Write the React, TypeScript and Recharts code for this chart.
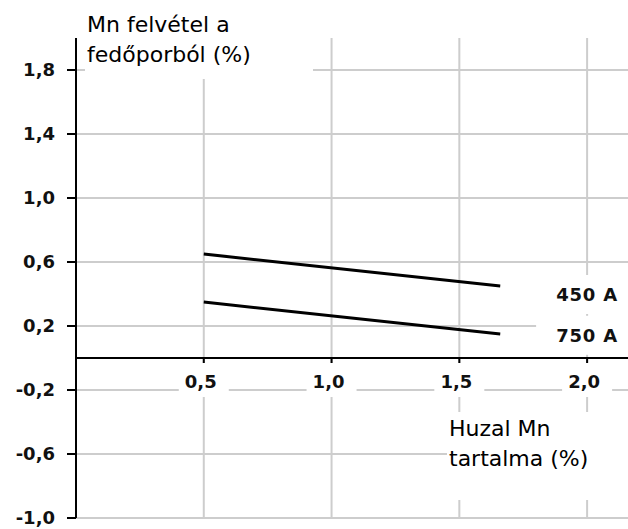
import { LineChart, Line, XAxis, YAxis, CartesianGrid, ReferenceLine, ReferenceDot } from "recharts";

// wire Mn content (%) at the two ends of each curve
const wireMn = [0.5, 1.66];
// Mn pickup from the flux (%) for each welding current
const pickup450 = [0.65, 0.45];
const pickup750 = [0.35, 0.15];

const xTicks = [0.5, 1.0, 1.5, 2.0];
const yTicks = [1.8, 1.4, 1.0, 0.6, 0.2, -0.2, -0.6, -1.0];

const seriesNames = ["450 A", "750 A"];
const seriesLabelX = [2.0, 2.0];
const seriesLabelY = [0.4, 0.145];

const yTitle = ["Mn felvétel a", "fedőporból (%)"];
const xTitle = ["Huzal Mn", "tartalma (%)"];

const data450 = wireMn.map((x, i) => ({ x, y: pickup450[i] }));
const data750 = wireMn.map((x, i) => ({ x, y: pickup750[i] }));

const fmt = (v: number) => v.toFixed(1).replace(".", ",");

const tickFont = { fontFamily: "DejaVu Sans", fontWeight: 700, fontSize: 18 };
const titleFont = { fontFamily: "DejaVu Sans", fontSize: 22, lineHeight: "30px", color: "#000" };
const gridColor = "#cdcdcd";

// tick mark under the zero line plus its label on a white patch
const XTick = ({ cx, cy, text }: { cx?: number; cy?: number; text: string }) => {
  if (cx == null || cy == null) return null;
  return (
    <g>
      <line x1={cx} x2={cx} y1={cy} y2={cy + 5} stroke="#000" strokeWidth={2} />
      <rect x={cx - 25} y={cy + 5} width={50} height={34} fill="#fff" />
      <text x={cx - 3} y={cy + 30} textAnchor="middle" fill="#111" {...tickFont}>
        {text}
      </text>
    </g>
  );
};

const SeriesTag = ({ cx, cy, text }: { cx?: number; cy?: number; text: string }) => {
  if (cx == null || cy == null) return null;
  return (
    <g>
      <rect x={cx - 51} y={cy - 19} width={95} height={39} fill="#fff" />
      <text x={cx} y={cy + 7} textAnchor="middle" fill="#111" letterSpacing={0.8} {...tickFont}>
        {text}
      </text>
    </g>
  );
};

export default function App() {
  return (
    <div style={{ position: "absolute", left: 0, top: 0, width: 628, height: 529, background: "#fff" }}>
      <LineChart width={628} height={529} margin={{ top: 38, right: 0, bottom: 11, left: 0 }}>
        <CartesianGrid
          stroke={gridColor}
          strokeWidth={2}
          horizontalValues={yTicks}
          verticalValues={xTicks}
        />
        <XAxis dataKey="x" type="number" domain={[0, 2.16]} ticks={xTicks} hide />
        <YAxis
          type="number"
          domain={[-1, 2]}
          ticks={yTicks}
          width={76}
          interval={0}
          tickFormatter={fmt}
          tickSize={9}
          tickMargin={12}
          axisLine={{ stroke: "#000", strokeWidth: 2 }}
          tickLine={{ stroke: "#000", strokeWidth: 2 }}
          tick={{ fill: "#111", ...tickFont }}
        />
        <ReferenceLine y={0} stroke="#000" strokeWidth={2} />
        <Line data={data450} dataKey="y" stroke="#000" strokeWidth={3} dot={false} activeDot={false} isAnimationActive={false} />
        <Line data={data750} dataKey="y" stroke="#000" strokeWidth={3} dot={false} activeDot={false} isAnimationActive={false} />
        {xTicks.map((t) => (
          <ReferenceDot key={t} x={t} y={0} r={0} shape={(p: any) => <XTick cx={p.cx} cy={p.cy} text={fmt(t)} />} />
        ))}
        {seriesNames.map((name, i) => (
          <ReferenceDot
            key={name}
            x={seriesLabelX[i]}
            y={seriesLabelY[i]}
            r={0}
            shape={(p: any) => <SeriesTag cx={p.cx} cy={p.cy} text={name} />}
          />
        ))}
      </LineChart>
      <div style={{ position: "absolute", left: 85, top: 10, width: 226, height: 69, paddingLeft: 2, background: "#fff", ...titleFont }}>
        {yTitle.map((l) => (
          <div key={l}>{l}</div>
        ))}
      </div>
      <div style={{ position: "absolute", left: 447, top: 412, width: 179, height: 86, paddingLeft: 2, paddingTop: 2, background: "#fff", ...titleFont }}>
        {xTitle.map((l) => (
          <div key={l}>{l}</div>
        ))}
      </div>
    </div>
  );
}
